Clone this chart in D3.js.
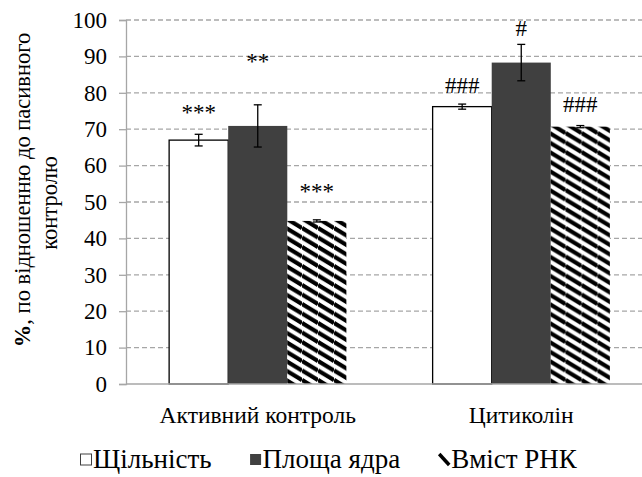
<!DOCTYPE html>
<html>
<head>
<meta charset="utf-8">
<script src="https://cdn.jsdelivr.net/npm/d3@7"></script>
<style>
  body { margin: 0; background: #fff; }
</style>
</head>
<body>
<div id="chart"></div>
<script>
// Data
const categories = ["Активний контроль", "Цитиколін"];
const seriesNames = ["Щільність", "Площа ядра", "Вміст РНК"];
const density = [67.0, 76.2];
const densityErr = [1.6, 0.7];
const nucleusArea = [70.9, 88.3];
const nucleusAreaErr = [5.8, 5.0];
const rnaContent = [44.8, 70.7];
const rnaContentErr = [0.3, 0.3];
const marks = [["***", "**", "***"], ["###", "#", "###"]];
// where the significance marks sit (in % units)
const markLevel = [[72.5, 86.5, 50.8], [80.0, 95.6, 74.8]];
const yTicks = [0, 10, 20, 30, 40, 50, 60, 70, 80, 90, 100];

const width = 642, height = 477;
const margin = { top: 20, right: -11, bottom: 93, left: 126 };

const svg = d3.select('#chart').append('svg')
    .attr('width', width)
    .attr('height', height);

// hatch pattern (wide downward diagonal)
const pw = 16, ph = 9.5;
svg.append('defs').append('pattern')
    .attr('id', 'hatch')
    .attr('patternUnits', 'userSpaceOnUse')
    .attr('width', pw)
    .attr('height', ph)
    .call(p => {
        p.append('rect').attr('width', pw).attr('height', ph).attr('fill', '#fff');
        p.append('path')
            .attr('d', `M0,${-ph} L${pw},0 M0,0 L${pw},${ph} M0,${ph} L${pw},${2 * ph}`)
            .attr('stroke', '#000')
            .attr('stroke-width', 4.2);
    });

const x0 = d3.scaleBand()
    .domain(categories)
    .range([margin.left, width - margin.right])
    .paddingInner(0)
    .paddingOuter(0);

const x1 = d3.scaleBand()
    .domain(seriesNames)
    .range([0, x0.bandwidth()])
    .paddingInner(0)
    .paddingOuter(0.73);

const y = d3.scaleLinear()
    .domain([0, 100])
    .range([height - margin.bottom, margin.top]);

const fills = ['#fff', '#404040', 'url(#hatch)'];

// gridlines
svg.append('g')
    .selectAll('line')
    .data(yTicks.filter(d => d > 0))
    .enter().append('line')
    .attr('x1', margin.left)
    .attr('x2', width)
    .attr('y1', d => y(d))
    .attr('y2', d => y(d))
    .attr('stroke', '#a6a6a6')
    .attr('stroke-width', 1.3)
    .attr('stroke-dasharray', '5,3');

// bars
const rows = categories.map((c, i) => seriesNames.map((s, j) => ({
    cat: c,
    ser: s,
    j: j,
    value: [density, nucleusArea, rnaContent][j][i],
    err: [densityErr, nucleusAreaErr, rnaContentErr][j][i],
    mark: marks[i][j],
    markAt: markLevel[i][j]
})));

const groups = svg.append('g')
    .selectAll('g')
    .data(rows)
    .enter().append('g')
    .attr('transform', d => `translate(${x0(d[0].cat)},0)`);

groups.selectAll('rect')
    .data(d => d)
    .enter().append('rect')
    .attr('x', d => x1(d.ser))
    .attr('y', d => y(d.value))
    .attr('width', x1.bandwidth())
    .attr('height', d => y(0) - y(d.value))
    .attr('fill', d => fills[d.j])
    .attr('stroke', d => d.j === 0 ? '#000' : 'none')
    .attr('stroke-width', 1.3);

// error bars
const eb = groups.selectAll('g.err')
    .data(d => d)
    .enter().append('g')
    .attr('class', 'err')
    .attr('stroke', '#000')
    .attr('stroke-width', 1.3);

eb.append('line')
    .attr('x1', d => x1(d.ser) + x1.bandwidth() / 2)
    .attr('x2', d => x1(d.ser) + x1.bandwidth() / 2)
    .attr('y1', d => y(d.value - d.err))
    .attr('y2', d => y(d.value + d.err));

[-1, 1].forEach(s => {
    eb.append('line')
        .attr('x1', d => x1(d.ser) + x1.bandwidth() / 2 - 4)
        .attr('x2', d => x1(d.ser) + x1.bandwidth() / 2 + 4)
        .attr('y1', d => y(d.value + s * d.err))
        .attr('y2', d => y(d.value + s * d.err));
});

// significance marks
groups.selectAll('text.mark')
    .data(d => d)
    .enter().append('text')
    .attr('class', 'mark')
    .attr('x', d => x1(d.ser) + x1.bandwidth() / 2)
    .attr('y', d => y(d.markAt))
    .attr('text-anchor', 'middle')
    .style('font-size', '23px')
    .text(d => d.mark);

// y axis
const yAxis = svg.append('g')
    .attr('transform', `translate(${margin.left},0)`)
    .call(d3.axisLeft(y).tickValues(yTicks).tickSize(7).tickPadding(12));
yAxis.attr('font-family', null).attr('font-size', null);
yAxis.select('.domain').attr('stroke', '#a6a6a6').attr('stroke-width', 1.3);
yAxis.selectAll('.tick line').attr('stroke', '#a6a6a6').attr('stroke-width', 1.3);
yAxis.selectAll('.tick text')
    .style('font-size', '23px')
    .attr('fill', '#000');

// x axis baseline
svg.append('line')
    .attr('x1', margin.left)
    .attr('x2', width)
    .attr('y1', y(0))
    .attr('y2', y(0))
    .attr('stroke', '#a6a6a6')
    .attr('stroke-width', 1.3);

// category labels
svg.append('g')
    .selectAll('text')
    .data(categories)
    .enter().append('text')
    .attr('x', d => x0(d) + x0.bandwidth() / 2)
    .attr('y', y(0) + 39)
    .attr('text-anchor', 'middle')
    .style('font-size', '23.5px')
    .text(d => d);

// y title
const cy = (y(0) + y(100)) / 2;
const yTitle = svg.append('text')
    .attr('transform', `translate(0,${cy}) rotate(-90)`)
    .attr('text-anchor', 'middle')
    .style('font-size', '22.5px');
const l1 = yTitle.append('tspan').attr('x', 12).attr('y', 30);
l1.append('tspan').style('font-weight', 'bold').text('%');
l1.append('tspan').text(', по відношенню до пасивного');
yTitle.append('tspan').attr('x', -1).attr('y', 57).text('контролю');

// legend
const legend = svg.append('g').attr('transform', `translate(80,468)`);
let lx = 0;
seriesNames.forEach((s, j) => {
    const g = legend.append('g').attr('transform', `translate(${lx},0)`);
    if (j === 2) {
        g.append('path')
            .attr('d', 'M1,-14 L11,-3')
            .attr('stroke', '#000')
            .attr('stroke-width', 3.5);
    } else {
        g.append('rect')
            .attr('x', 0.5)
            .attr('y', -14)
            .attr('width', 11)
            .attr('height', 11)
            .attr('fill', fills[j])
            .attr('stroke', j === 0 ? '#404040' : 'none');
    }
    const t = g.append('text')
        .attr('x', 13)
        .attr('y', 0)
        .style('font-size', '27px')
        .text(s);
    lx += 13 + t.node().getComputedTextLength() + 38;
});
</script>
</body>
</html>
